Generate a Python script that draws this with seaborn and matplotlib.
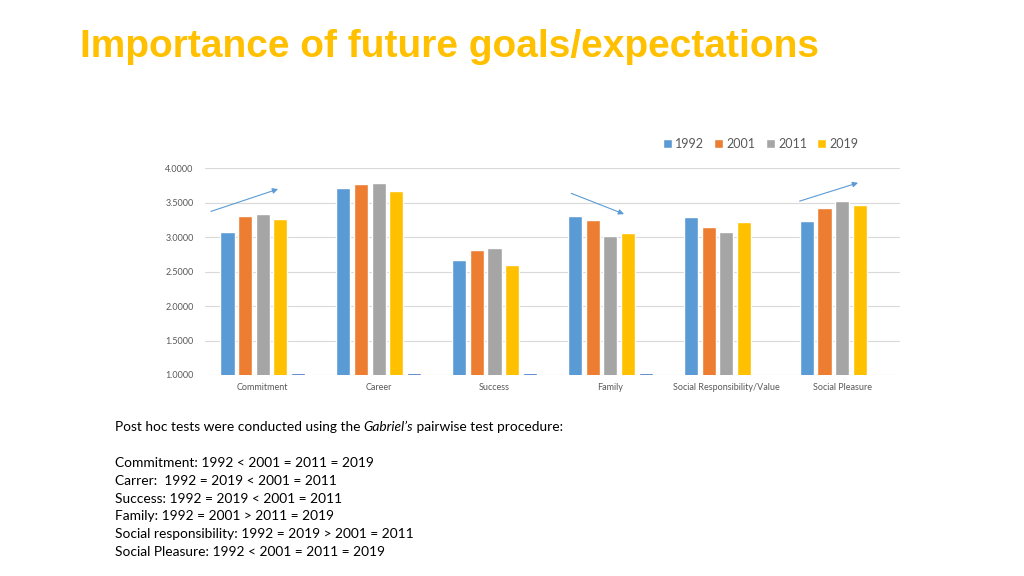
import pandas as pd
import numpy as np
import matplotlib
matplotlib.use("Agg")
import matplotlib.pyplot as plt
import seaborn as sns

# данные
categories = ['Commitment', 'Career', 'Success', 'Family',
              'Social Responsibility/Value', 'Social Pleasure']
years = ['1992', '2001', '2011', '2019', 'blank']
v1992 = [3.07, 3.71, 2.67, 3.30, 3.29, 3.24]
v2001 = [3.30, 3.77, 2.82, 3.25, 3.15, 3.42]
v2011 = [3.33, 3.78, 2.84, 3.02, 3.07, 3.52]
v2019 = [3.27, 3.67, 2.60, 3.06, 3.22, 3.47]
vextra = [1.025, 1.025, 1.025, 1.025, np.nan, np.nan]  # пустая серия без легенды
colors = ['#5B9BD5', '#ED7D31', '#A5A5A5', '#FFC000', '#4472C4']

notes = [
    'Commitment: 1992 < 2001 = 2011 = 2019',
    'Carrer:  1992 = 2019 < 2001 = 2011',
    'Success: 1992 = 2019 < 2001 = 2011',
    'Family: 1992 = 2001 > 2011 = 2019',
    'Social responsibility: 1992 = 2019 > 2001 = 2011',
    'Social Pleasure: 1992 < 2001 = 2011 = 2019',
]

df = pd.DataFrame({'category': categories * 5,
                   'year': np.repeat(years, len(categories)),
                   'value': v1992 + v2001 + v2011 + v2019 + vextra})

sns.set_style('white')
plt.rcParams['font.family'] = ['Lato', 'DejaVu Sans']

fig = plt.figure(figsize=(10.24, 5.76), dpi=100)
ax = fig.add_axes([0.2, 0.349, 0.679, 0.359])

sns.barplot(data=df, x='category', y='value', hue='year', order=categories,
            hue_order=years, palette=colors, width=0.76, gap=0.2,
            saturation=1, ax=ax, legend=True)

ax.set_ylim(1, 4)
ax.set_xlim(-0.5, len(categories) - 0.5)
ax.set_yticks(np.arange(1.0, 4.01, 0.5))
ax.set_yticklabels([f'{t:.4f}' for t in np.arange(1.0, 4.01, 0.5)])
ax.yaxis.grid(True, color='#D9D9D9', lw=0.8)
ax.set_axisbelow(True)
sns.despine(ax=ax, left=True, bottom=True)
ax.tick_params(axis='both', length=0, labelsize=6.5, labelcolor='#595959')
ax.tick_params(axis='y', pad=8)
ax.tick_params(axis='x', pad=6)
ax.set_xlabel('')
ax.set_ylabel('')

# легенда только для четырёх лет
handles, labels = ax.get_legend_handles_labels()
ax.get_legend().remove()
keep = [i for i, l in enumerate(labels) if l != 'blank']
fig.legend([handles[i] for i in keep], [labels[i] for i in keep],
           loc='center', bbox_to_anchor=(0.743, 0.75), ncol=4, frameon=False,
           fontsize=9, labelcolor='#595959', handlelength=0.7,
           handleheight=0.7, handletextpad=0.3, columnspacing=0.8)

# стрелки тренда
arrow = dict(arrowstyle='-|>', color='#5B9BD5', lw=0.8, mutation_scale=8)
ax.annotate('', xy=(0.155, 3.71), xytext=(-0.47, 3.36), arrowprops=arrow,
            annotation_clip=False)
ax.annotate('', xy=(3.14, 3.32), xytext=(2.64, 3.65), arrowprops=arrow)
ax.annotate('', xy=(5.16, 3.80), xytext=(4.61, 3.51), arrowprops=arrow)

fig.text(0.078, 0.918, 'Importance of future goals/expectations',
         fontsize=28, fontweight='bold', color='#FFC000',
         family='Liberation Sans', va='center')

# текст под графиком, курсив вставляем отдельным куском
fs = 9.9
renderer = fig.canvas.get_renderer()
y0 = 1 - 427 / 576
x = 0.112
for part, style in [('Post hoc tests were conducted using the ', 'normal'),
                    ('Gabriel\u2019s', 'italic'),
                    (' pairwise test procedure:', 'normal')]:
    t = fig.text(x, y0, part, fontsize=fs, style=style, color='black', va='center')
    bb = t.get_window_extent(renderer=renderer)
    x = bb.x1 / fig.bbox.width

for i, line in enumerate(notes):
    fig.text(0.112, 1 - (463 + 17.8 * i) / 576, line, fontsize=fs,
             color='black', va='center')

fig.savefig('out.png', dpi=100)
